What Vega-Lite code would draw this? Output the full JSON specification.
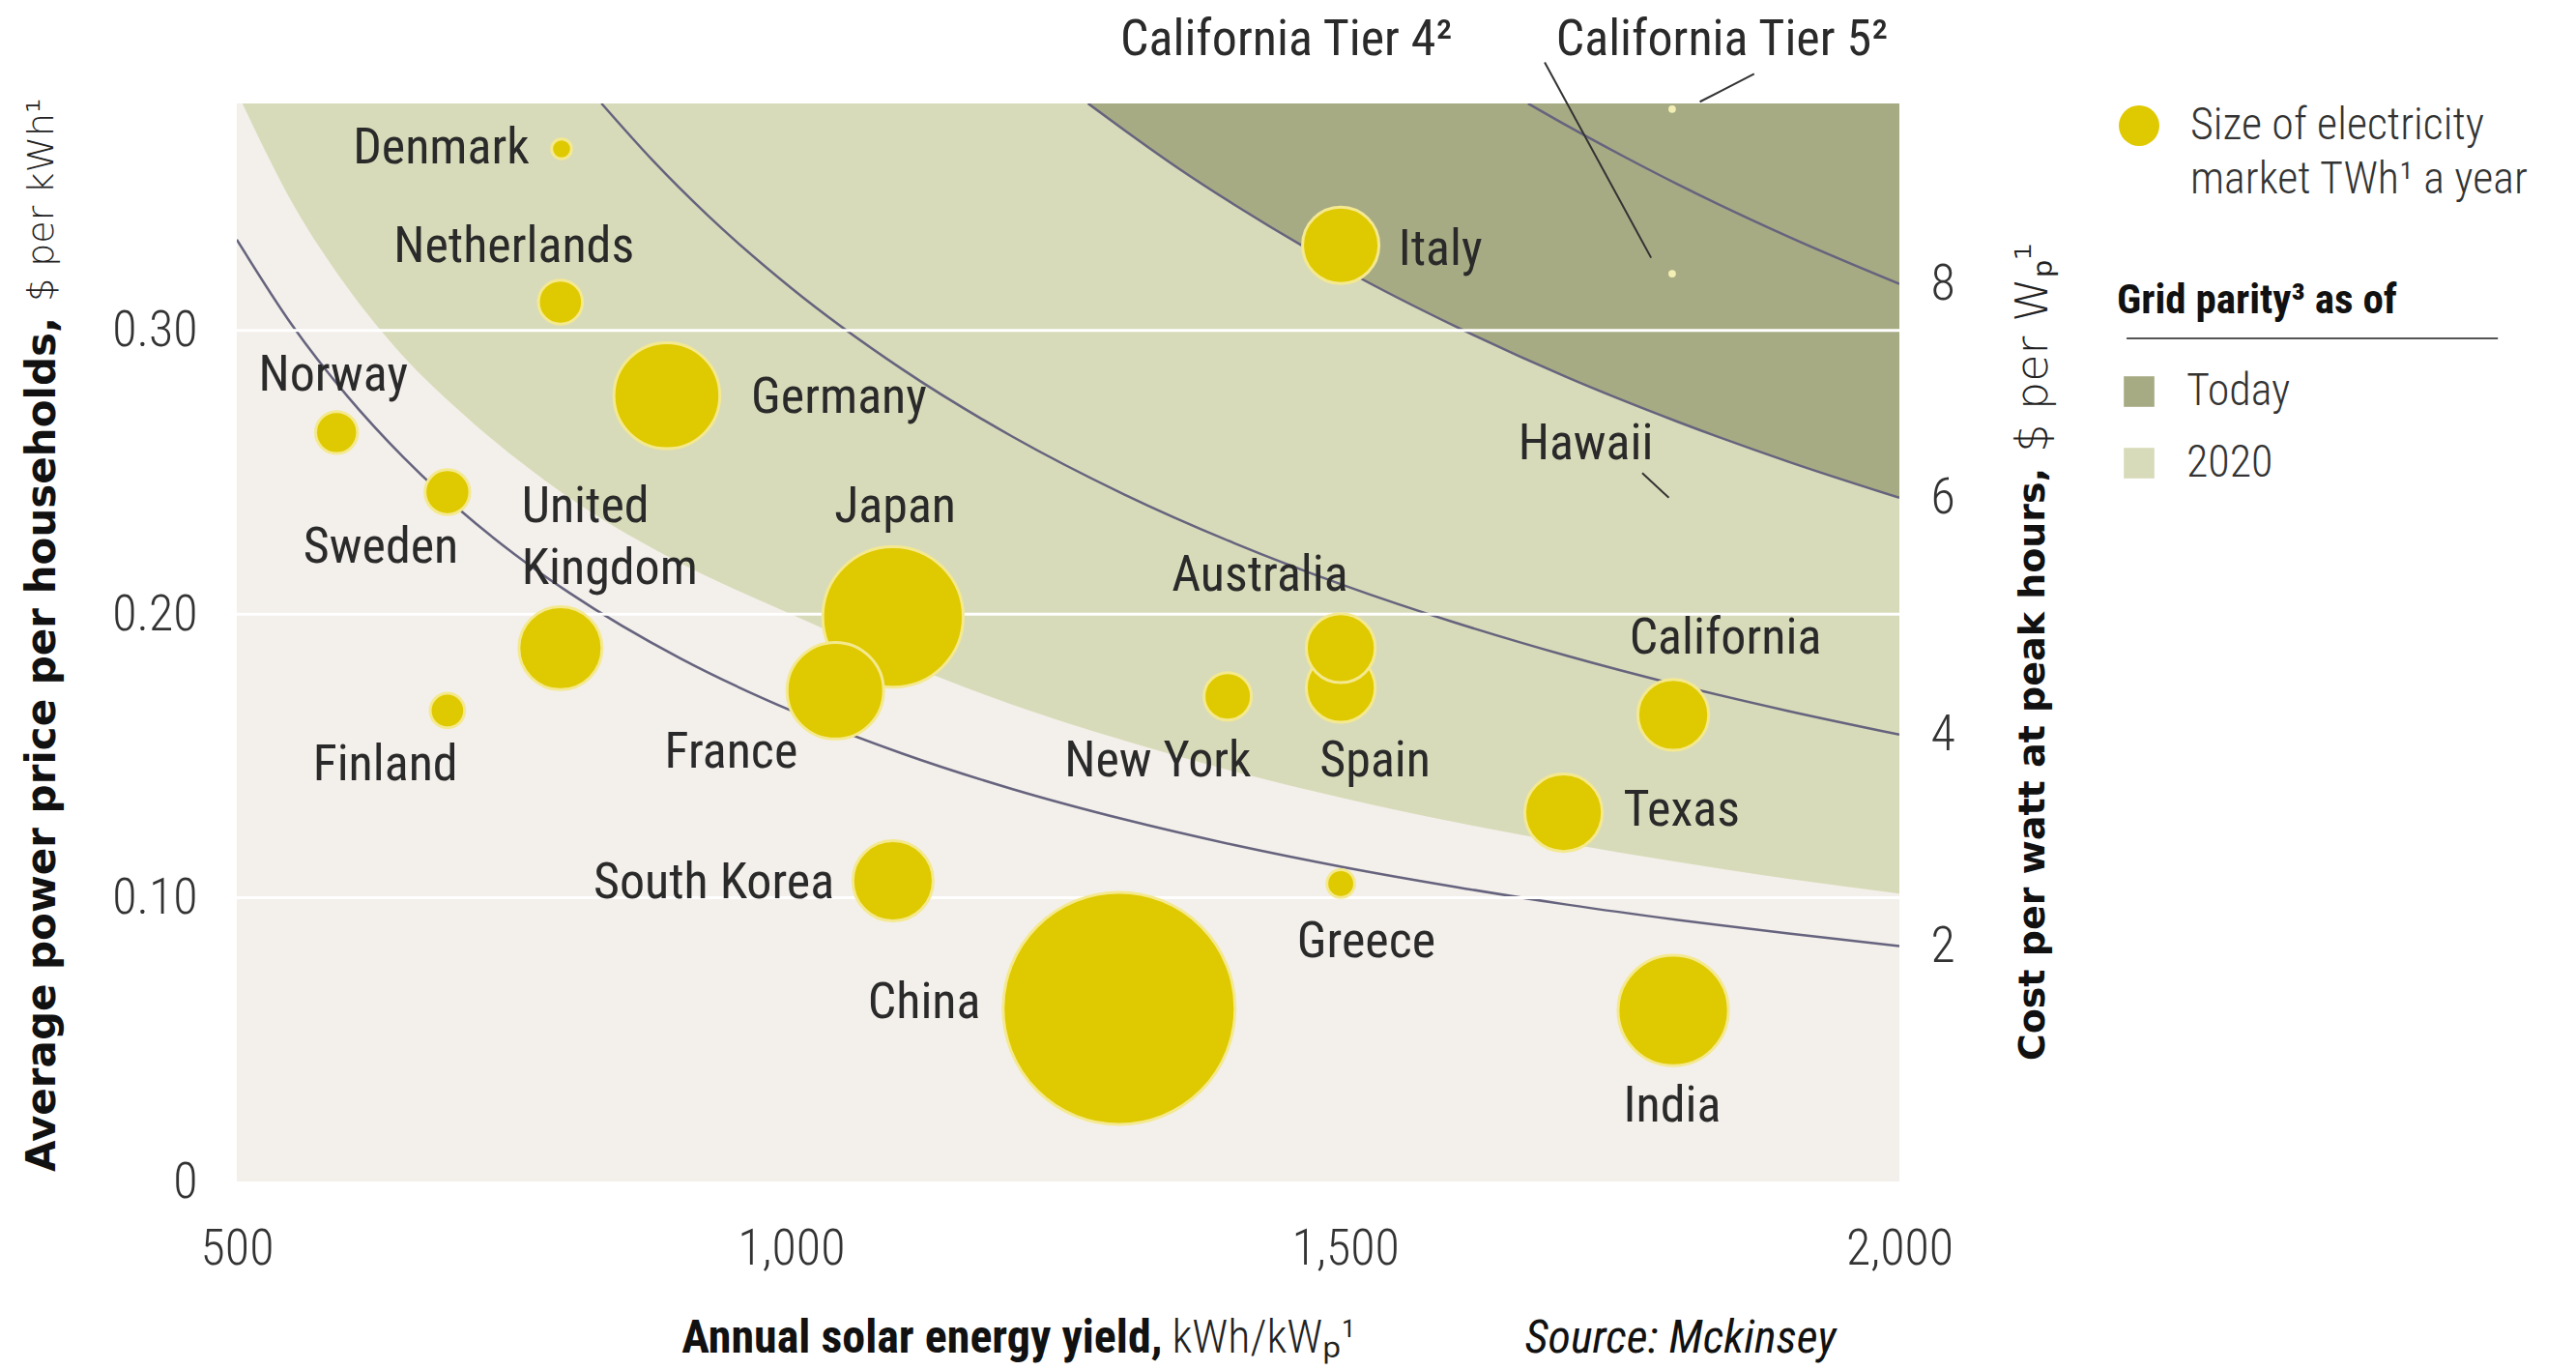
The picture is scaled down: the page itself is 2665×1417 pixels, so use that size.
{
  "$schema": "https://vega.github.io/schema/vega-lite/v6.json",
  "width": 1720,
  "height": 1115,
  "autosize": {"type": "none"},
  "padding": {"left": 245, "top": 107, "right": 700, "bottom": 195},
  "background": "#ffffff",
  "config": {
    "view": {"fill": "#f3efea", "stroke": null},
    "axis": {"labelFont": "Roboto Condensed, Liberation Sans, sans-serif", "labelFontWeight": 300, "labelColor": "#333333", "domain": false, "ticks": false, "grid": false},
    "legend": {"padding": 0, "labelFont": "Roboto Condensed, Liberation Sans, sans-serif", "titleFont": "Roboto Condensed, Liberation Sans, sans-serif"},
    "text": {"font": "Roboto Condensed, Liberation Sans, sans-serif", "color": "#2a2a2a"}
  },
  "datasets": {
    "bubbles": [
      {"country": "Denmark", "yield": 793, "price": 0.364, "twh": 22},
      {"country": "Netherlands", "yield": 792, "price": 0.31, "twh": 108},
      {"country": "Germany", "yield": 888, "price": 0.277, "twh": 625},
      {"country": "Norway", "yield": 590, "price": 0.264, "twh": 98},
      {"country": "Sweden", "yield": 690, "price": 0.243, "twh": 112},
      {"country": "United Kingdom", "yield": 792, "price": 0.188, "twh": 385},
      {"country": "Finland", "yield": 690, "price": 0.166, "twh": 66},
      {"country": "Japan", "yield": 1092, "price": 0.199, "twh": 1100},
      {"country": "France", "yield": 1040, "price": 0.173, "twh": 520},
      {"country": "South Korea", "yield": 1092, "price": 0.106, "twh": 360},
      {"country": "China", "yield": 1296, "price": 0.061, "twh": 3000},
      {"country": "Italy", "yield": 1496, "price": 0.33, "twh": 325},
      {"country": "Spain", "yield": 1496, "price": 0.174, "twh": 265},
      {"country": "Australia", "yield": 1496, "price": 0.188, "twh": 265},
      {"country": "New York", "yield": 1394, "price": 0.171, "twh": 125},
      {"country": "Greece", "yield": 1496, "price": 0.105, "twh": 43},
      {"country": "California", "yield": 1796, "price": 0.1645, "twh": 280},
      {"country": "Texas", "yield": 1697, "price": 0.13, "twh": 335},
      {"country": "India", "yield": 1796, "price": 0.0603, "twh": 680}
    ],
    "curves": [
      {"curve": "2", "yield": 500, "price": 0.332}, {"curve": "2", "yield": 550, "price": 0.3018}, {"curve": "2", "yield": 600, "price": 0.2767}, {"curve": "2", "yield": 650, "price": 0.2554}, {"curve": "2", "yield": 700, "price": 0.2371}, {"curve": "2", "yield": 750, "price": 0.2213}, {"curve": "2", "yield": 800, "price": 0.2075}, {"curve": "2", "yield": 900, "price": 0.1844}, {"curve": "2", "yield": 1000, "price": 0.166}, {"curve": "2", "yield": 1100, "price": 0.1509}, {"curve": "2", "yield": 1200, "price": 0.1383}, {"curve": "2", "yield": 1300, "price": 0.1277}, {"curve": "2", "yield": 1400, "price": 0.1186}, {"curve": "2", "yield": 1500, "price": 0.1107}, {"curve": "2", "yield": 1600, "price": 0.1038}, {"curve": "2", "yield": 1700, "price": 0.0976}, {"curve": "2", "yield": 1800, "price": 0.0922}, {"curve": "2", "yield": 1900, "price": 0.0874}, {"curve": "2", "yield": 2000, "price": 0.083},
      {"curve": "4", "yield": 829, "price": 0.38}, {"curve": "4", "yield": 875, "price": 0.36}, {"curve": "4", "yield": 925, "price": 0.3405}, {"curve": "4", "yield": 1000, "price": 0.315}, {"curve": "4", "yield": 1100, "price": 0.2864}, {"curve": "4", "yield": 1200, "price": 0.2625}, {"curve": "4", "yield": 1300, "price": 0.2423}, {"curve": "4", "yield": 1400, "price": 0.225}, {"curve": "4", "yield": 1500, "price": 0.21}, {"curve": "4", "yield": 1600, "price": 0.1969}, {"curve": "4", "yield": 1700, "price": 0.1853}, {"curve": "4", "yield": 1800, "price": 0.175}, {"curve": "4", "yield": 1900, "price": 0.1658}, {"curve": "4", "yield": 2000, "price": 0.1575},
      {"curve": "6", "yield": 1268, "price": 0.38}, {"curve": "6", "yield": 1300, "price": 0.3708}, {"curve": "6", "yield": 1350, "price": 0.357}, {"curve": "6", "yield": 1400, "price": 0.3443}, {"curve": "6", "yield": 1500, "price": 0.3213}, {"curve": "6", "yield": 1600, "price": 0.3013}, {"curve": "6", "yield": 1700, "price": 0.2835}, {"curve": "6", "yield": 1800, "price": 0.2678}, {"curve": "6", "yield": 1900, "price": 0.2537}, {"curve": "6", "yield": 2000, "price": 0.241},
      {"curve": "8", "yield": 1665, "price": 0.38}, {"curve": "8", "yield": 1700, "price": 0.3722}, {"curve": "8", "yield": 1750, "price": 0.3616}, {"curve": "8", "yield": 1800, "price": 0.3515}, {"curve": "8", "yield": 1900, "price": 0.333}, {"curve": "8", "yield": 2000, "price": 0.3164}
    ],
    "parity": [
      {"parity": "2020", "yield": 505, "price": 0.38}, {"parity": "2020", "yield": 550, "price": 0.345}, {"parity": "2020", "yield": 600, "price": 0.315}, {"parity": "2020", "yield": 650, "price": 0.291}, {"parity": "2020", "yield": 700, "price": 0.272}, {"parity": "2020", "yield": 800, "price": 0.241}, {"parity": "2020", "yield": 900, "price": 0.218}, {"parity": "2020", "yield": 1000, "price": 0.2}, {"parity": "2020", "yield": 1100, "price": 0.183}, {"parity": "2020", "yield": 1200, "price": 0.168}, {"parity": "2020", "yield": 1300, "price": 0.1555}, {"parity": "2020", "yield": 1400, "price": 0.1445}, {"parity": "2020", "yield": 1500, "price": 0.135}, {"parity": "2020", "yield": 1600, "price": 0.1266}, {"parity": "2020", "yield": 1700, "price": 0.1192}, {"parity": "2020", "yield": 1800, "price": 0.1126}, {"parity": "2020", "yield": 1900, "price": 0.1067}, {"parity": "2020", "yield": 2000, "price": 0.1015},
      {"parity": "Today", "yield": 1268, "price": 0.38}, {"parity": "Today", "yield": 1300, "price": 0.3708}, {"parity": "Today", "yield": 1350, "price": 0.357}, {"parity": "Today", "yield": 1400, "price": 0.3443}, {"parity": "Today", "yield": 1500, "price": 0.3213}, {"parity": "Today", "yield": 1600, "price": 0.3013}, {"parity": "Today", "yield": 1700, "price": 0.2835}, {"parity": "Today", "yield": 1800, "price": 0.2678}, {"parity": "Today", "yield": 1900, "price": 0.2537}, {"parity": "Today", "yield": 2000, "price": 0.241}
    ],
    "gridlines": [
      {"price": 0.1, "yield": 500, "yield2": 2000},
      {"price": 0.2, "yield": 500, "yield2": 2000},
      {"price": 0.3, "yield": 500, "yield2": 2000}
    ],
    "leaders": [
      {"leader": "tier4", "yield": 1680, "price": 0.3945}, {"leader": "tier4", "yield": 1776, "price": 0.3256},
      {"leader": "tier5", "yield": 1869, "price": 0.3904}, {"leader": "tier5", "yield": 1820, "price": 0.3806},
      {"leader": "hawaii", "yield": 1768, "price": 0.2497}, {"leader": "hawaii", "yield": 1792, "price": 0.241}
    ],
    "tierdots": [
      {"name": "California Tier 4", "yield": 1795, "price": 0.32},
      {"name": "California Tier 5", "yield": 1795, "price": 0.378}
    ]
  },
  "encoding": {
    "x": {"field": "yield", "type": "quantitative", "scale": {"domain": [500, 2000], "nice": false, "zero": false},
      "axis": {"values": [500, 1000, 1500, 2000], "labelExpr": "format(datum.value, ',')", "labelFlush": false, "labelFontSize": 52, "labelPadding": 44, "title": null}}
  },
  "layer": [
    {
      "encoding": {
        "y": {"field": "price", "type": "quantitative", "stack": null, "scale": {"domain": [0, 0.38], "nice": false, "zero": false},
          "axis": {"orient": "left", "values": [0, 0.1, 0.2, 0.3], "labelExpr": "datum.value == 0 ? '0' : format(datum.value, '.2f')", "labelFontSize": 52, "labelPadding": 41, "title": null}}
      },
      "layer": [
        {
          "data": {"name": "parity"},
          "transform": [{"filter": "datum.parity == '2020'"}],
          "mark": {"type": "area", "interpolate": "monotone", "clip": true},
          "encoding": {
            "y2": {"datum": 0.38},
            "fill": {"field": "parity", "type": "nominal", "scale": {"domain": ["Today", "2020"], "range": ["#a7ab84", "#d8dbb9"]},
              "legend": {"orient": "none", "legendX": 1945, "legendY": 183, "title": "Grid parity³ as of", "titleFontSize": 43, "titleFontWeight": "bold", "titleColor": "#111111", "titleLimit": 700, "titlePadding": 49, "symbolType": "square", "symbolSize": 1000, "symbolStrokeWidth": 0, "labelFontSize": 46, "labelFontWeight": 300, "labelColor": "#333333", "labelOffset": 26, "rowPadding": 28}}
          }
        },
        {
          "data": {"name": "parity"},
          "transform": [{"filter": "datum.parity == 'Today'"}],
          "mark": {"type": "area", "interpolate": "monotone", "clip": true},
          "encoding": {
            "y2": {"datum": 0.38},
            "fill": {"field": "parity", "type": "nominal"}
          }
        }
      ]
    },
    {
      "data": {"name": "curves"},
      "mark": {"type": "line", "interpolate": "monotone", "color": "#66637e", "strokeWidth": 2.5, "clip": true},
      "encoding": {
        "y": {"field": "price", "type": "quantitative", "scale": {"domain": [0, 0.38], "nice": false, "zero": false},
          "axis": {"orient": "right", "values": [0.083, 0.1575, 0.241, 0.3164], "labelExpr": "datum.value < 0.12 ? '2' : datum.value < 0.2 ? '4' : datum.value < 0.28 ? '6' : '8'", "labelFontSize": 52, "labelPadding": 32, "labelAlign": "left", "title": null}},
        "detail": {"field": "curve", "type": "nominal"}
      }
    },
    {
      "encoding": {
        "y": {"field": "price", "type": "quantitative", "scale": {"domain": [0, 0.38], "nice": false, "zero": false}, "axis": null}
      },
      "layer": [
        {
          "data": {"name": "gridlines"},
          "mark": {"type": "rule", "color": "#ffffff", "strokeWidth": 3},
          "encoding": {"x2": {"field": "yield2"}}
        },
        {
          "data": {"name": "leaders"},
          "mark": {"type": "line", "color": "#333333", "strokeWidth": 2},
          "encoding": {"detail": {"field": "leader", "type": "nominal"}}
        },
        {
          "data": {"name": "tierdots"},
          "mark": {"type": "point", "filled": true, "color": "#f2eeb4", "size": 60, "opacity": 1}
        },
        {
          "data": {"name": "bubbles"},
          "mark": {"type": "circle", "opacity": 1, "stroke": "#f4e98e", "strokeWidth": 3},
          "encoding": {
            "size": {"field": "twh", "type": "quantitative", "scale": {"type": "linear", "domain": [0, 3000], "range": [0, 57600]}, "legend": null},
            "color": {"datum": "Size of electricity", "type": "nominal", "scale": {"domain": ["Size of electricity", "market TWh¹ a year"], "range": ["#dfc900", "transparent"]},
              "legend": {"orient": "none", "legendX": 1945, "legendY": 0, "title": null, "symbolType": "circle", "symbolSize": 1760, "symbolStrokeWidth": 0, "labelFontSize": 46, "labelFontWeight": 300, "labelColor": "#333333", "labelLimit": 800, "labelOffset": 30, "rowPadding": 10}}
          }
        },
        {
          "data": {"values": [
            {"label": "Netherlands", "yield": 750, "price": 0.3296},
            {"label": "Norway", "yield": 587, "price": 0.2844},
            {"label": "Sweden", "yield": 630, "price": 0.2236},
            {"label": "Japan", "yield": 1094, "price": 0.238},
            {"label": "France", "yield": 946, "price": 0.1512},
            {"label": "Hawaii", "yield": 1717, "price": 0.26},
            {"label": "Australia", "yield": 1423, "price": 0.2137},
            {"label": "New York", "yield": 1331, "price": 0.1483},
            {"label": "Spain", "yield": 1527, "price": 0.1483},
            {"label": "California", "yield": 1843, "price": 0.1917},
            {"label": "Greece", "yield": 1519, "price": 0.0846},
            {"label": "India", "yield": 1795, "price": 0.0266},
            {"label": "Finland", "yield": 634, "price": 0.147},
            {"label": "California Tier 4²", "yield": 1447, "price": 0.4025},
            {"label": "California Tier 5²", "yield": 1840, "price": 0.4025}
          ]},
          "mark": {"type": "text", "align": "center", "baseline": "middle", "fontSize": 52},
          "encoding": {"text": {"field": "label"}}
        },
        {
          "data": {"values": [
            {"label": "Germany", "yield": 964, "price": 0.2763},
            {"label": "United", "yield": 757, "price": 0.238},
            {"label": "Kingdom", "yield": 757, "price": 0.216},
            {"label": "Italy", "yield": 1548, "price": 0.3284},
            {"label": "Texas", "yield": 1751, "price": 0.1309}
          ]},
          "mark": {"type": "text", "align": "left", "baseline": "middle", "fontSize": 52},
          "encoding": {"text": {"field": "label"}}
        },
        {
          "data": {"values": [
            {"label": "Denmark", "yield": 764, "price": 0.3644},
            {"label": "South Korea", "yield": 1039, "price": 0.1054},
            {"label": "China", "yield": 1171, "price": 0.0631}
          ]},
          "mark": {"type": "text", "align": "right", "baseline": "middle", "fontSize": 52},
          "encoding": {"text": {"field": "label"}}
        },
        {
          "data": {"values": [{"label": "Average power price per households,", "yield": 325, "price": 0.3074}]},
          "mark": {"type": "text", "align": "right", "baseline": "middle", "angle": 270, "dx": -8, "font": "DejaVu Sans", "fontWeight": "bold", "fontSize": 42, "color": "#111111"},
          "encoding": {"text": {"field": "label"}}
        },
        {
          "data": {"values": [{"label": "Cost per watt at peak hours,", "yield": 2121, "price": 0.2543}]},
          "mark": {"type": "text", "align": "right", "baseline": "middle", "angle": 270, "dx": -8, "font": "DejaVu Sans", "fontWeight": "bold", "fontSize": 38, "color": "#111111"},
          "encoding": {"text": {"field": "label"}}
        },
        {
          "data": {"values": [{"label": "$ per kWh¹", "yield": 325, "price": 0.3074}]},
          "mark": {"type": "text", "align": "left", "baseline": "middle", "angle": 270, "dx": 8, "font": "DejaVu Sans", "fontWeight": 300, "fontSize": 38, "color": "#222222"},
          "encoding": {"text": {"field": "label"}}
        },
        {
          "data": {"values": [{"label": "$ per Wₚ¹", "yield": 2121, "price": 0.2543}]},
          "mark": {"type": "text", "align": "left", "baseline": "middle", "angle": 270, "dx": 8, "font": "DejaVu Sans", "fontWeight": 300, "fontSize": 46, "color": "#222222"},
          "encoding": {"text": {"field": "label"}}
        },
        {
          "data": {"values": [{"label": "Annual solar energy yield,", "yield": 1335, "price": -0.0556}]},
          "mark": {"type": "text", "align": "right", "baseline": "middle", "fontWeight": "bold", "fontSize": 48, "color": "#111111"},
          "encoding": {"text": {"field": "label"}}
        },
        {
          "data": {"values": [{"label": "kWh/kWₚ¹", "yield": 1335, "price": -0.0556}]},
          "mark": {"type": "text", "align": "left", "baseline": "middle", "dx": 10, "fontSize": 48, "fontWeight": 300, "color": "#222222"},
          "encoding": {"text": {"field": "label"}}
        },
        {
          "data": {"values": [{"label": "Source: Mckinsey", "yield": 1662, "price": -0.0556}]},
          "mark": {"type": "text", "align": "left", "baseline": "middle", "fontStyle": "italic", "fontSize": 48, "color": "#111111"},
          "encoding": {"text": {"field": "label"}}
        },
        {
          "data": {"values": [{"yield": 2205, "yield2": 2540, "price": 0.2972}]},
          "mark": {"type": "rule", "color": "#555555", "strokeWidth": 2},
          "encoding": {"x2": {"field": "yield2"}}
        }
      ]
    }
  ],
  "resolve": {"scale": {"y": "independent"}}
}
